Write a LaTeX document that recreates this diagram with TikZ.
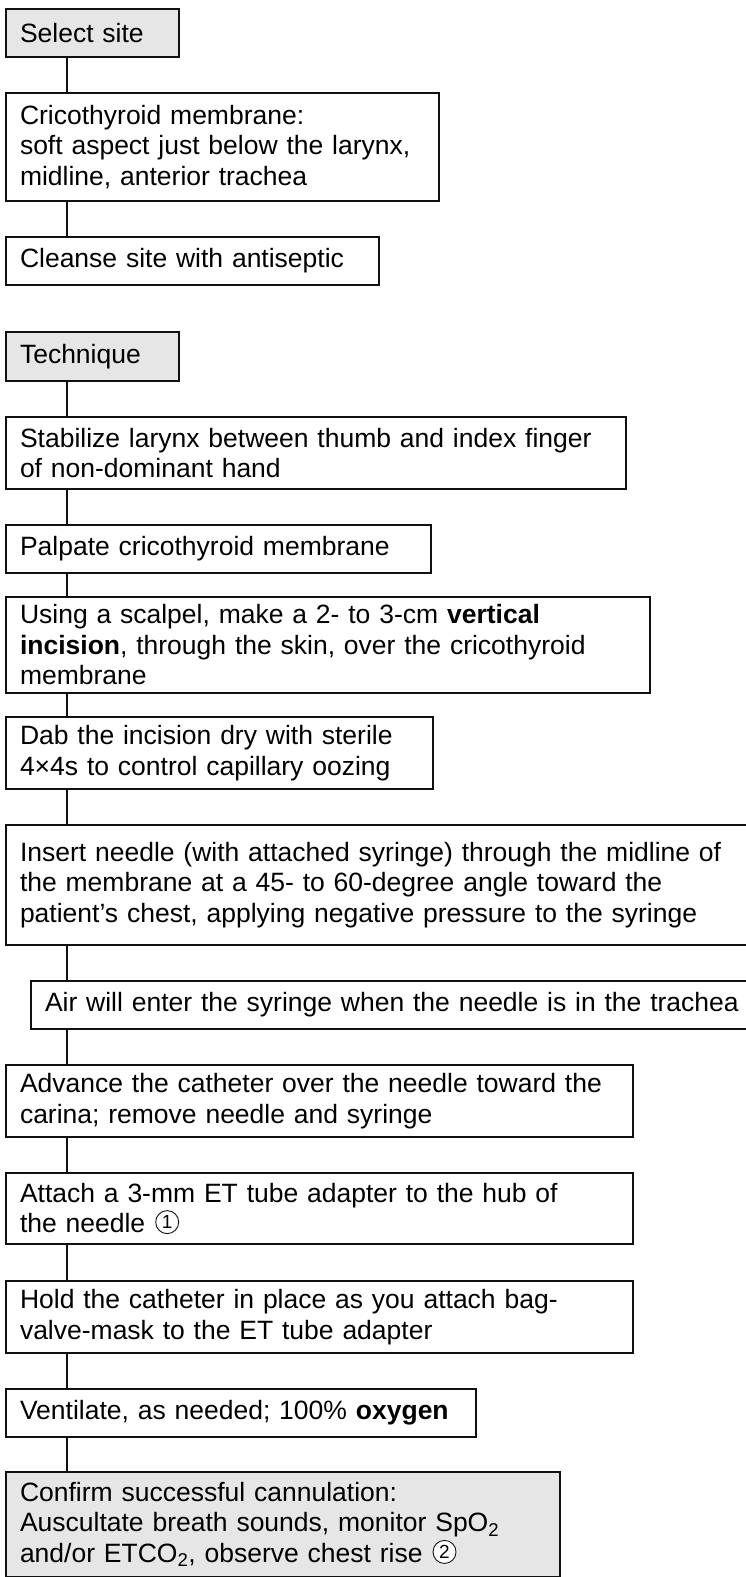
\documentclass[tikz,border=0pt]{standalone}
\usepackage{fontspec}
\setmainfont{Liberation Sans}
\usepackage{tikz}
\usetikzlibrary{positioning}
\usepackage{xcolor}
\definecolor{headgrey}{HTML}{E6E6E6}
\definecolor{linedark}{HTML}{111111}

% numbered callout circle
\newcommand{\callout}[1]{\tikz[baseline={([yshift=1pt]cn.south)}]
  \node[circle, draw=linedark, line width=0.9pt, fill=white, inner sep=0pt,
        outer sep=0pt, minimum size=23pt, font=\fontsize{19pt}{19pt}\selectfont] (cn) {#1};}

\begin{document}
\begin{tikzpicture}[
    font=\fontsize{26.5pt}{30.5pt}\selectfont,
    stepbox/.style={
        rectangle, draw=linedark,
        line width=1.4pt,
        fill=white,
        align=left,
        inner xsep=14pt,
        inner ysep=0pt,
        outer sep=0pt,
        anchor=north west
    },
    headbox/.style={
        stepbox,
        fill=headgrey,
        line width=2.4pt
    },
    link/.style={
        draw=linedark,
        line width=1.4pt
    }
]

\useasboundingbox (0,0) rectangle (746pt,-1577pt);
\clip (0,0) rectangle (746pt,-1577pt);

\coordinate (spine) at (67pt,0);

% ==========================================
% SITE
% ==========================================

\node[headbox, text width=145pt, minimum height=48pt] (sel) at (6pt,-9pt) {Select site};

\node[stepbox, text width=405pt, minimum height=108pt,
      below right=36pt and 0pt of sel.south west] (crico)
{Cricothyroid membrane:\\
soft aspect just below the larynx,\\
midline, anterior trachea};

\node[stepbox, text width=345pt, minimum height=48pt,
      below right=36pt and 0pt of crico.south west] (cleanse)
{Cleanse site with antiseptic};

% ==========================================
% TECHNIQUE
% ==========================================

\node[headbox, text width=145pt, minimum height=49pt,
      below right=47pt and 0pt of cleanse.south west] (tech) {Technique};

\node[stepbox, text width=592pt, minimum height=72pt,
      below right=36pt and 0pt of tech.south west] (stab)
{Stabilize larynx between thumb and index finger\\
of non-dominant hand};

\node[stepbox, text width=397pt, minimum height=48pt,
      below right=36pt and 0pt of stab.south west] (palp)
{Palpate cricothyroid membrane};

\node[stepbox, text width=616pt, minimum height=96pt,
      below right=24pt and 0pt of palp.south west] (scalpel)
{Using a scalpel, make a 2- to 3-cm \textbf{vertical}\\
\textbf{incision}, through the skin, over the cricothyroid\\
membrane};

\node[stepbox, text width=399pt, minimum height=72pt,
      below right=24pt and 0pt of scalpel.south west] (dab)
{Dab the incision dry with sterile\\
4×4s to control capillary oozing};

\node[stepbox, text width=732pt, minimum height=120pt,
      below right=36pt and 0pt of dab.south west] (insert)
{Insert needle (with attached syringe) through the midline of\\
the membrane at a 45- to 60-degree angle toward the\\
patient’s chest, applying negative pressure to the syringe};

\node[stepbox, text width=701pt, minimum height=48pt,
      below right=36pt and 25pt of insert.south west] (air)
{Air will enter the syringe when the needle is in the trachea};

\node[stepbox, text width=599pt, minimum height=72pt,
      below right=36pt and -25pt of air.south west] (adv)
{Advance the catheter over the needle toward the\\
carina; remove needle and syringe};

\node[stepbox, text width=599pt, minimum height=71pt,
      below right=36pt and 0pt of adv.south west] (attach)
{Attach a 3-mm ET tube adapter to the hub of\\
the needle\hspace{10pt}\callout{1}};

\node[stepbox, text width=599pt, minimum height=72pt,
      below right=37pt and 0pt of attach.south west] (hold)
{Hold the catheter in place as you attach bag-\\
valve-mask to the ET tube adapter};

\node[stepbox, text width=442pt, minimum height=48pt,
      below right=36pt and 0pt of hold.south west] (vent)
{Ventilate, as needed; 100\% \textbf{oxygen}};

\node[headbox, text width=526pt, minimum height=105pt,
      below right=35pt and 0pt of vent.south west] (confirm)
{Confirm successful cannulation:\\
Auscultate breath sounds, monitor SpO\textsubscript{2}\\
and/or ETCO\textsubscript{2}, observe chest rise\hspace{10pt}\callout{2}};

% ==========================================
% CONNECTIONS
% ==========================================

\draw[link] (sel.south -| spine) -- (crico.north -| spine);
\draw[link] (crico.south -| spine) -- (cleanse.north -| spine);

\draw[link] (tech.south -| spine) -- (stab.north -| spine);
\draw[link] (stab.south -| spine) -- (palp.north -| spine);
\draw[link] (palp.south -| spine) -- (scalpel.north -| spine);
\draw[link] (scalpel.south -| spine) -- (dab.north -| spine);
\draw[link] (dab.south -| spine) -- (insert.north -| spine);
\draw[link] (insert.south -| spine) -- (air.north -| spine);
\draw[link] (air.south -| spine) -- (adv.north -| spine);
\draw[link] (adv.south -| spine) -- (attach.north -| spine);
\draw[link] (attach.south -| spine) -- (hold.north -| spine);
\draw[link] (hold.south -| spine) -- (vent.north -| spine);
\draw[link] (vent.south -| spine) -- (confirm.north -| spine);

\end{tikzpicture}
\end{document}
